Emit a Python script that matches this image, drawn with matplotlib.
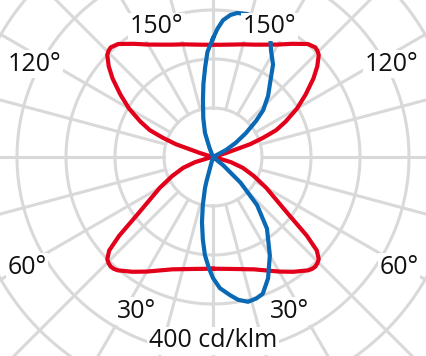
import numpy as np
import matplotlib.pyplot as plt

plt.rcParams['font.family'] = ['Open Sans', 'DejaVu Sans']

# red plane, gamma 0 (down) .. 180 (up), same on both sides
red_gamma = [0, 10, 20, 30, 35, 40, 41.5, 43, 44.5, 46, 48, 50, 53, 56, 60, 65, 70, 74, 77, 80,
             100, 104, 107, 109, 111, 113, 116, 120, 124, 128, 131, 134, 135.5, 137, 140,
             145, 150, 155, 160, 165, 170, 175, 180]
red_cd = [228, 232, 244, 270, 286, 302, 305, 306, 304, 300, 285, 250, 190, 155, 125, 92, 65, 38, 10, 0,
          0, 5, 28, 80, 110, 140, 165, 198, 228, 260, 282, 300, 304, 306, 301,
          282, 265, 253, 244, 238, 233, 230, 229]

# blue plane, negative angle = left half
blue_angle = [-180, -177, -175, -172.5, -170, -166, -161.6, -159, -157,
              -17, -15, -14.5, -12, -9.6, -7, -4.7, -2, 0, 3, 7, 10, 13.6, 17, 20,
              24.4, 30, 37, 42.5, 47, 51, 53,
              116, 118.3, 122, 126, 130, 133, 138, 142.4, 147, 151.5, 155.3, 158,
              161, 166.6, 170.5, 173, 175.8, 178, 180]
blue_cd = [242, 215, 184, 150, 118, 82, 52, 20, 0,
           0, 50, 65, 100, 135, 170, 201, 228, 247, 268, 284, 296, 304, 302, 297,
           272, 232, 183, 133, 77, 27, 0,
           0, 30, 55, 83, 115, 140, 168, 191, 225, 248, 279, 290,
           296, 300, 298, 292, 280, 262, 242]

rings = [100, 200, 300, 400, 500]
spoke_step = 15

label_text = ["150°", "150°", "120°", "120°", "60°", "60°", "30°", "30°", "400 cd/klm"]
label_ang = [155.5, -155.5, 115.8, -115.8, 57.8, -57.8, 25.5, -25.5, 0]
label_r = [278, 278, 405, 405, 448, 448, 364, 364, 388]

RED = "#e2001a"
BLUE = "#0a69b4"
GRID = "#d9d9d9"

W, H = 427, 356
cx, cy = 213, 157
rmax = 600
rad_px = 294

fig = plt.figure(figsize=(W / 100, H / 100), dpi=100)
ax = fig.add_axes([(cx - rad_px) / W, (H - cy - rad_px) / H, 2 * rad_px / W, 2 * rad_px / H],
                  projection='polar')
ax.set_theta_zero_location('S')
ax.set_theta_direction(1)
ax.set_ylim(0, rmax)
ax.axis('off')

t = np.linspace(0, 2 * np.pi, 721)
for r in rings:
    ax.plot(t, np.full_like(t, r), color=GRID, lw=2.2, zorder=1)
for a in range(0, 360, spoke_step):
    ax.plot([np.radians(a)] * 2, [rings[0], rmax], color=GRID, lw=2.2, zorder=1)

rg = np.radians(red_gamma)
ax.plot(np.concatenate([rg, -rg[::-1]]), red_cd + red_cd[::-1], color=RED, lw=3, zorder=3,
        solid_joinstyle='round')
ax.plot(np.radians(blue_angle), blue_cd, color=BLUE, lw=3, zorder=4, solid_joinstyle='round')

for s, a, r in zip(label_text, label_ang, label_r):
    ax.text(np.radians(a), r, s, fontsize=18, ha='center', va='baseline', color='#111111',
            zorder=5, bbox=dict(facecolor='white', edgecolor='none', pad=1))

fig.savefig("out.png", dpi=100)
